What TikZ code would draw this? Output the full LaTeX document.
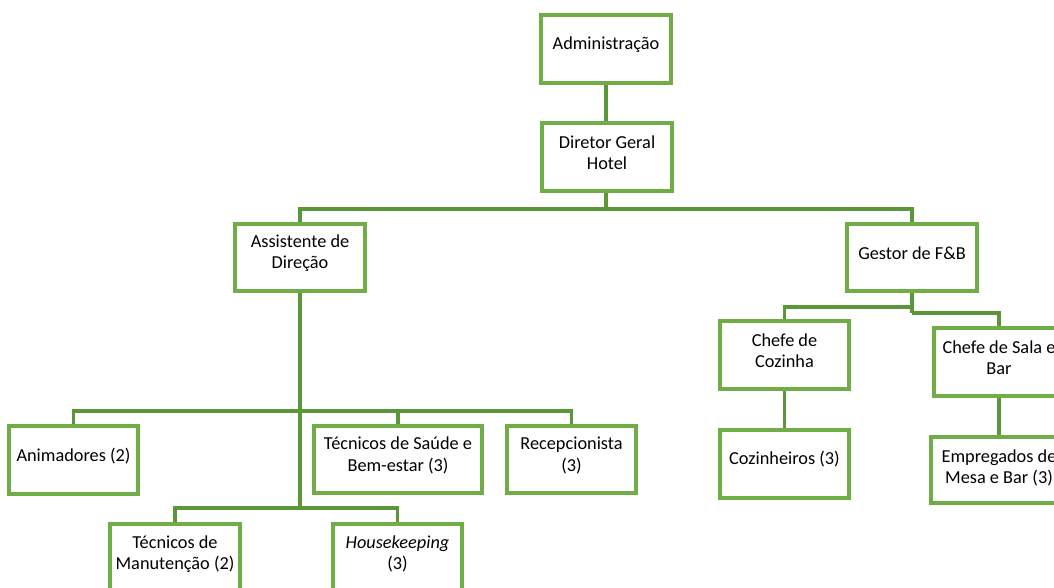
\documentclass[tikz,border=0pt]{standalone}
\usepackage{fontspec}
\setmainfont{Carlito}
\definecolor{boxg}{HTML}{70AD47}
\definecolor{lineg}{HTML}{5A9738}
\begin{document}
\begin{tikzpicture}[x=1pt,y=-1pt,
  box/.style={draw=boxg, line width=2.6pt, fill=white, minimum width=128pt, minimum height=66pt, inner sep=0pt},
  tx/.style={font=\fontsize{18.3}{21.5}\selectfont, align=center, inner sep=0pt, text=black},
  con/.style={draw=lineg, line width=3.2pt}]
\useasboundingbox (0,0) rectangle (1054,587);

% boxes
\node[box] (adm) at (606,49) {};
\node[box] (dir) at (607,157) {};
\node[box] (ass) at (300,257.5) {};
\node[box] (ges) at (912,257.5) {};
\node[box] (ani) at (73.5,460) {};
\node[box, minimum width=166pt] (sau) at (398,459.5) {};
\node[box] (rec) at (571.5,459.5) {};
\node[box] (man) at (175,558) {};
\node[box] (hou) at (397.5,558) {};
\node[box] (chc) at (784.5,355) {};
\node[box] (cos) at (784.5,464) {};
\node[box] (chs) at (999,362) {};
\node[box, minimum width=134pt, minimum height=64pt] (emp) at (999,470) {};

% junction points
\coordinate (b1) at (606,209);
\coordinate (b2) at (300,411);
\coordinate (b3) at (300,508);
\coordinate (g1) at (912,307);
\coordinate (g2) at (912,313);

% connectors
\draw[con] (adm.south) -- (adm.south |- dir.north);
\draw[con] (dir.south -| b1) -- (b1);
\draw[con] (ass.north) |- (b1) -| (ges.north);
\draw[con] (ass.south) -- (b3);
\draw[con] (ani.north) |- (b2) -| (rec.north);
\draw[con] (sau.north) -- (sau.north |- b2);
\draw[con] (man.north) |- (b3) -| (hou.north);
\draw[con] (ges.south) -- (g2);
\draw[con] (chc.north) |- (g1);
\draw[con] (g2) -| (chs.north);
\draw[con] (chc.south) -- (cos.north);
\draw[con] (chs.south) -- (emp.north);

% redraw box borders on top of connector ends
\foreach \n in {adm,dir,ass,ges,ani,sau,rec,man,hou,chc,cos,chs,emp}{
  \draw[draw=boxg, line width=2.6pt] (\n.north west) rectangle (\n.south east);
}

% texts
\node[tx] (admt) at ([yshift=4.5pt]adm.center) {Administração};
\node[tx] (dirt) at ([yshift=4.5pt]dir.center) {Diretor Geral\\Hotel};
\node[tx] (asst) at ([yshift=4.5pt]ass.center) {Assistente de\\Direção};
\node[tx] (gest) at ([yshift=4.5pt]ges.center) {Gestor de F\&B};
\node[tx] (anit) at ([yshift=3.5pt]ani.center) {Animadores (2)};
\node[tx] (saut) at ([yshift=4pt]sau.center) {Técnicos de Saúde e\\Bem-estar (3)};
\node[tx] (rect) at ([yshift=4pt]rec.center) {Recepcionista\\(3)};
\node[tx] (mant) at ([yshift=4pt]man.center) {Técnicos de\\Manutenção (2)};
\node[tx] (hout) at ([yshift=4pt]hou.center) {\textit{Housekeeping}\\(3)};
\node[tx] (chct) at ([yshift=4.5pt]chc.center) {Chefe de\\Cozinha};
\node[tx] (cost) at ([yshift=4.5pt]cos.center) {Cozinheiros (3)};
\node[tx] (chst) at ([yshift=4.5pt]chs.center) {Chefe de Sala e\\Bar};
\node[tx] (empt) at ([yshift=2pt]emp.center) {Empregados de\\Mesa e Bar (3)};
\end{tikzpicture}
\end{document}
